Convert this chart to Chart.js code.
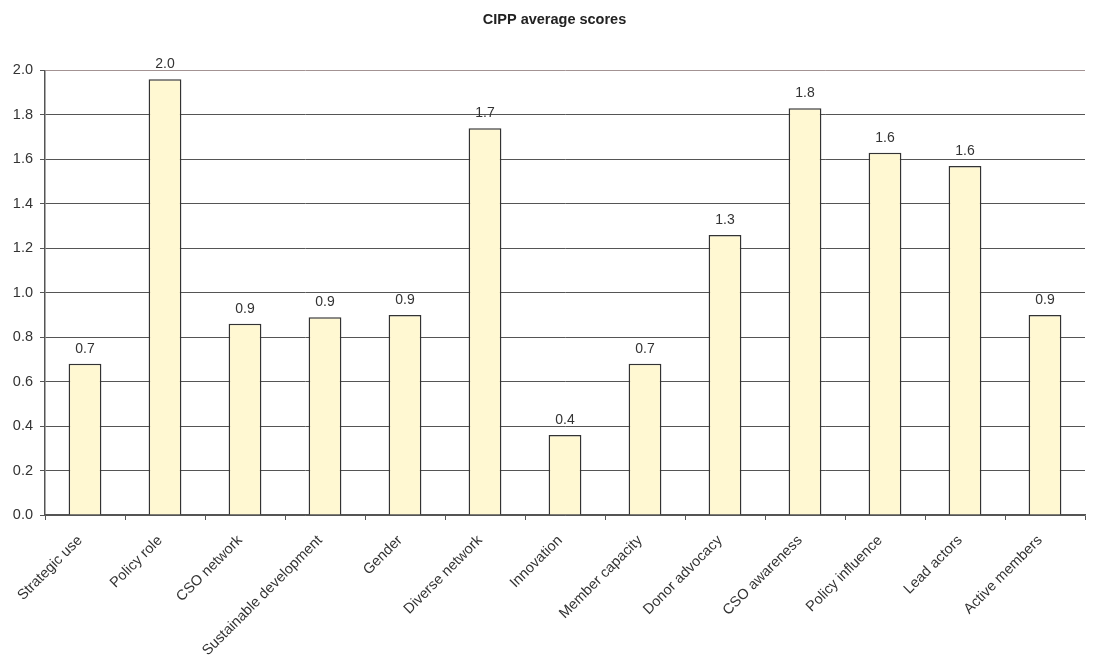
<!DOCTYPE html>
<html>
<head>
<meta charset="utf-8">
<script src="https://cdn.jsdelivr.net/npm/chart.js@4/dist/chart.umd.min.js"></script>
<style>
  html, body { margin: 0; padding: 0; background: #fff; }
  #wrap { width: 1109px; height: 665px; }
</style>
</head>
<body>
<div id="wrap"><canvas id="chart" width="1109" height="665"></canvas></div>
<script>
// Scores per item
const categories = [
    'Strategic use', 'Policy role', 'CSO network', 'Sustainable development', 'Gender',
    'Diverse network', 'Innovation', 'Member capacity', 'Donor advocacy', 'CSO awareness',
    'Policy influence', 'Lead actors', 'Active members'
];
const scores = [0.68, 1.96, 0.86, 0.89, 0.90, 1.74, 0.36, 0.68, 1.26, 1.83, 1.63, 1.57, 0.90];
const yTicks = [0, 0.2, 0.4, 0.6, 0.8, 1.0, 1.2, 1.4, 1.6, 1.8, 2.0];

const fontFamily = '"Liberation Sans", Arial, Helvetica, sans-serif';

// Value written over each bar
const barLabels = {
    id: 'barLabels',
    afterDatasetsDraw(chart) {
        const ctx = chart.ctx;
        const meta = chart.getDatasetMeta(0);
        ctx.save();
        ctx.font = '14px ' + fontFamily;
        ctx.fillStyle = '#333';
        ctx.textAlign = 'center';
        ctx.textBaseline = 'bottom';
        meta.data.forEach(function(bar, i) {
            ctx.fillText(scores[i].toFixed(1), bar.x, bar.y - 8);
        });
        ctx.restore();
    }
};

new Chart(document.getElementById('chart'), {
    type: 'bar',
    data: {
        labels: categories,
        datasets: [{
            data: scores,
            backgroundColor: '#fff8d2',
            borderColor: '#333',
            borderWidth: 1.5,
            categoryPercentage: 1,
            barPercentage: 0.41
        }]
    },
    options: {
        responsive: false,
        animation: false,
        layout: { padding: 0 },
        plugins: {
            legend: { display: false },
            tooltip: { enabled: false },
            title: {
                display: true,
                text: 'CIPP average scores',
                color: '#222',
                font: { family: fontFamily, size: 14.5, weight: 'bold' },
                padding: { top: 11, bottom: 42 }
            }
        },
        scales: {
            x: {
                grid: {
                    offset: true,
                    drawOnChartArea: false,
                    drawTicks: true,
                    tickLength: 5,
                    color: '#555'
                },
                border: { color: '#555', width: 1.5 },
                ticks: {
                    color: '#333',
                    font: { family: fontFamily, size: 14.5 },
                    minRotation: 45,
                    maxRotation: 45,
                    autoSkip: false,
                    padding: 12,
                    labelOffset: -5
                },
                afterFit(scale) { scale.height = 150; }
            },
            y: {
                min: 0,
                max: 2,
                afterBuildTicks(scale) {
                    scale.ticks = yTicks.map(v => ({ value: v }));
                },
                grid: {
                    color: ctx => (ctx.tick && ctx.tick.value === 2 ? '#a39393' : '#555'),
                    tickLength: 5,
                    tickColor: '#555'
                },
                border: { color: '#555', width: 1.5 },
                ticks: {
                    color: '#333',
                    font: { family: fontFamily, size: 14.5 },
                    padding: 7,
                    callback: v => Number(v).toFixed(1)
                },
                afterFit(scale) { scale.width = 45; }
            },
            // empty right margin so the title stays centred on the page
            yRight: {
                position: 'right',
                grid: { display: false },
                border: { display: false },
                ticks: { display: false },
                afterFit(scale) { scale.width = 24; }
            }
        }
    },
    plugins: [barLabels]
});
</script>
</body>
</html>
